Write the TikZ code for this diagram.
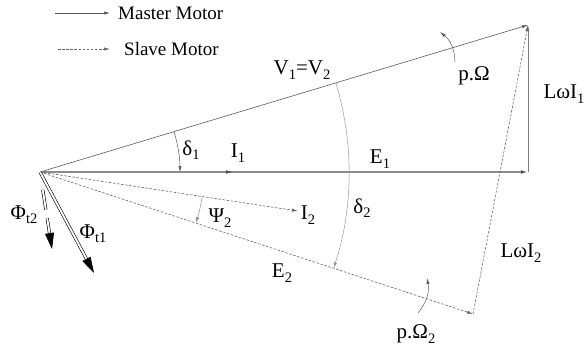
\documentclass[tikz,border=0pt]{standalone}
\usepackage{fontspec}
\setmainfont{Liberation Serif}
\usetikzlibrary{arrows.meta, calc}
\newcommand{\lo}[1]{\raisebox{-0.45ex}{\fontsize{14.5}{14.5}\selectfont #1}}

\begin{document}
\begin{tikzpicture}[
  x=1pt, y=1pt, >={Latex[length=6pt,width=3.2pt]},
  lbl/.style   ={font=\fontsize{21}{24}\selectfont, inner sep=0pt},
  leg/.style   ={font=\fontsize{19}{22}\selectfont, inner sep=0pt, anchor=west},
  master/.style={->, draw=black!65, line width=0.6pt},
  slave/.style ={->, draw=black!60, line width=0.6pt, dash pattern=on 2.5pt off 1.6pt},
  spine/.style ={-{Latex[length=7pt,width=3.6pt,color=black!70]}, draw=black!45, line width=1.3pt},
  ang/.style   ={->, draw=black!65, line width=0.5pt},
  flux/.style  ={-{Triangle[length=16pt,width=9pt]}, draw=black, double=white, line width=0.6pt, double distance=1.9pt},
]
\useasboundingbox (0,0) rectangle (587,-354);

% ---------- legend ----------
\coordinate (mA) at (55,-13);  \coordinate (mB) at (110,-13);
\coordinate (sA) at (58,-49);  \coordinate (sB) at (110,-49);
\node[leg] (mlbl) at (118,-13) {Master Motor};
\node[leg] (slbl) at (124,-49) {Slave Motor};
\draw[master] (mA) -- (mB);
\draw[slave]  (sA) -- (sB);

% ---------- phasor points ----------
\coordinate (O)  at (40,-172);
\coordinate (V)  at (528,-25);
\coordinate (E1) at (528,-172);
\coordinate (I1) at (233,-172);
\coordinate (E2) at (473,-314);
\coordinate (I2) at (298,-211);
\coordinate (F1) at (94,-273);
\coordinate (F2) at (52,-249);

% ---------- master motor ----------
\draw[master] (O) -- (V);
\draw[spine]  (O) -- (E1);
\draw[spine]  (O) -- (I1);
\draw[master, draw=black!50, line width=0.9pt] (E1) -- (V);

% ---------- slave motor ----------
\draw[slave] (O) -- (I2);
\draw[slave] (O) -- (E2);
\draw[slave] (E2) -- (V);

% ---------- fluxes ----------
\draw[flux] (O) -- (F1);
\draw[flux, dash pattern=on 0pt off 18pt on 20pt off 9pt on 40pt] (O) -- (F2);

% ---------- angles ----------
\draw[ang] ($(O)+(16.77:140)$) arc[start angle=16.77, end angle=0, radius=140];
\draw[ang, draw=black!40] ($(O)+(16.77:309)$) arc[start angle=16.77, end angle=-18.16, radius=309];
\draw[ang, draw=black!45] ($(O)+(-8.6:164)$) arc[start angle=-8.6, end angle=-18.16, radius=164];

% ---------- rotation ----------
\coordinate (wA) at (455,-62);  \coordinate (wB) at (440,-32);
\coordinate (vA) at (418,-313); \coordinate (vB) at (427,-278);
\draw[ang] (wA) to[bend right=25] (wB);
\draw[ang] (vA) to[bend right=25] (vB);

% ---------- labels ----------
\node[lbl] (lV)   at (302,-70)  {V\lo{1}=V\lo{2}};
\node[lbl] (ld1)  at (191,-150) {δ\lo{1}};
\node[lbl] (lI1)  at (238,-153) {I\lo{1}};
\node[lbl] (lE1)  at (380,-159) {E\lo{1}};
\node[lbl] (ld2)  at (362,-208) {δ\lo{2}};
\node[lbl] (lP2)  at (220,-218) {Ψ\lo{2}};
\node[lbl] (lI2)  at (308,-215) {I\lo{2}};
\node[lbl] (lE2)  at (282,-273) {E\lo{2}};
\node[lbl] (lX1)  at (564,-94)  {LωI\lo{1}};
\node[lbl] (lX2)  at (521,-253) {LωI\lo{2}};
\node[lbl] (lw)   at (474,-76)  {p.Ω};
\node[lbl] (lw2)  at (416,-334) {p.Ω\lo{2}};
\node[lbl] (lF2)  at (24,-215)  {Φ\lo{t2}};
\node[lbl] (lF1)  at (93,-234)  {Φ\lo{t1}};

\end{tikzpicture}
\end{document}
